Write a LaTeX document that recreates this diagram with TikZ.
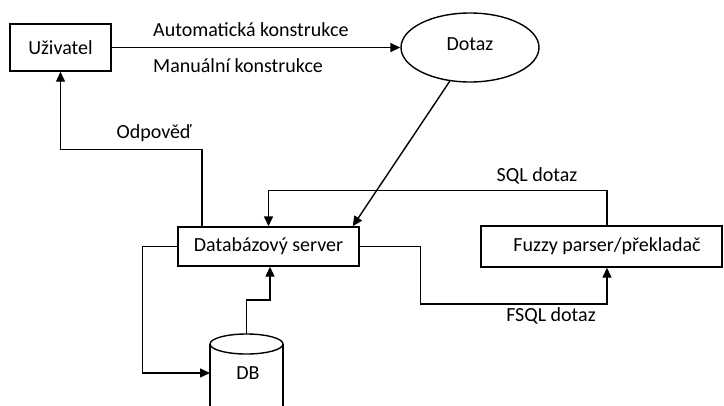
\documentclass[tikz,border=0pt]{standalone}
\usepackage{fontspec}
\setmainfont{Carlito}
\usetikzlibrary{shapes.geometric,arrows.meta}

\begin{document}
\begin{tikzpicture}[x=1pt,y=-1pt,
  every node/.style={font=\fontsize{20}{23}\selectfont},
  box/.style={draw,line width=1.4pt,rectangle,inner sep=0pt,anchor=center},
  oval/.style={draw,line width=1.4pt,ellipse,inner sep=0pt},
  conn/.style={line width=1.4pt},
  arr/.style={conn,-{Triangle[length=10pt,width=9pt]}},
  lbl/.style={inner sep=0pt}
]
\useasboundingbox (0,0) rectangle (724,405);
\clip (0,0) rectangle (724,405);

% main blocks
\node[box,minimum width=101pt,minimum height=47pt] (user) at (60.5,47.5) {Uživatel};
\node[oval,minimum width=138pt,minimum height=69pt] (dotaz) at (470,47.5) {};
\node[lbl] (dotaztxt) at (470,44) {Dotaz};
\node[box,minimum width=181pt,minimum height=39pt] (server) at (268.5,246.5) {Databázový server};
\node[box,minimum width=241pt,minimum height=41pt] (fuzzy) at (601.5,246.5) {};
\node[lbl] (fuzzytxt) at (607,246) {Fuzzy parser/překladač};

% database cylinder
\coordinate (dbtop) at (246.5,334);
\coordinate (dbleft) at (210,373);
\draw[conn] (210,344) arc[start angle=180,end angle=540,x radius=36.5,y radius=10];
\draw[conn] (210,344) -- (210,410);
\draw[conn] (283,344) -- (283,410);
\draw[conn] (210,410) arc[start angle=180,end angle=360,x radius=36.5,y radius=-10];
\node[lbl] (dbtxt) at (248,373) {DB};

% connectors
\draw[arr] (user.east) -- (dotaz.west);
\node[lbl,anchor=west] (auto) at (153,30) {Automatická konstrukce};
\node[lbl,anchor=west] (manual) at (153,66) {Manuální konstrukce};

\draw[arr] (dotaz.-121) -- ([xshift=-7pt]server.north east);

\draw[arr] ([xshift=-66.5pt]server.north) -- ++(0,-77) -| (user.south);
\node[lbl] (odp) at (154,133) {Odpověď};

\draw[arr] ([xshift=5.5pt]fuzzy.north) -- ++(0,-35) -| (server.north);
\node[lbl] (sql) at (537,176) {SQL dotaz};

\draw[arr] (server.east) -- ++(61,0) -- ++(0,57.5) -| ([xshift=5.5pt]fuzzy.south);
\node[lbl] (fsql) at (551,316) {FSQL dotaz};

\draw[arr] (server.west) -- ++(-35,0) |- (dbleft);
\draw[arr] (dbtop) -- ++(0,-34) -| ([xshift=1.5pt]server.south);
\end{tikzpicture}
\end{document}
